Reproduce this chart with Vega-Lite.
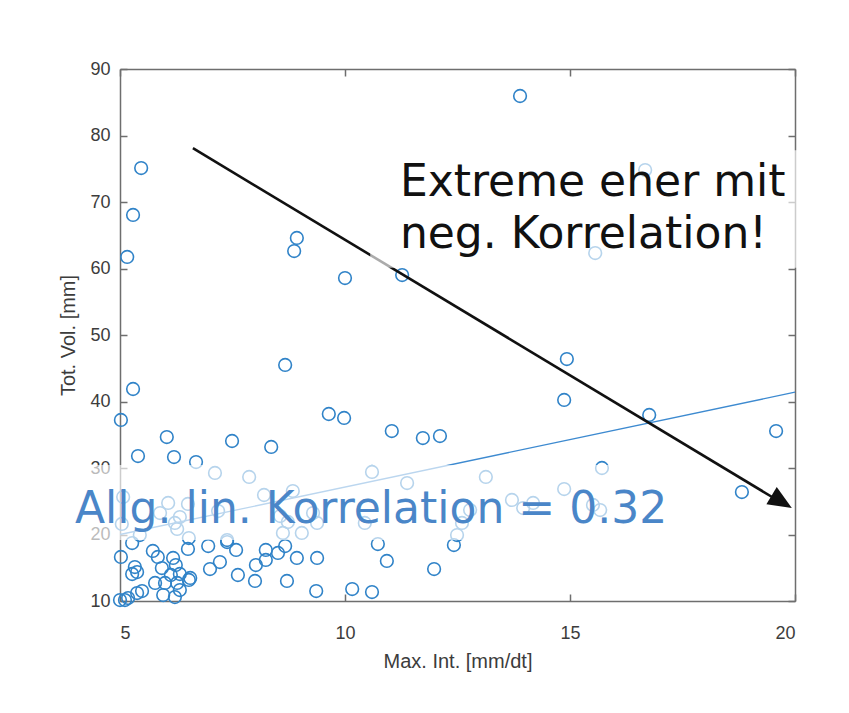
{
  "$schema": "https://vega.github.io/schema/vega-lite/v6.json",
  "width": 675,
  "height": 532,
  "autosize": {"type": "none"},
  "padding": {"left": 120, "top": 69, "right": 54, "bottom": 112},
  "background": "white",
  "config": {
    "view": {"stroke": null},
    "axis": {
      "domainColor": "#6e6e6e",
      "domainWidth": 1.5,
      "tickColor": "#6e6e6e",
      "tickWidth": 1.5,
      "tickSize": -7,
      "grid": false,
      "labelFont": "Liberation Sans",
      "labelFontSize": 18,
      "labelColor": "#3c3c3c",
      "titleFont": "Liberation Sans",
      "titleFontSize": 20,
      "titleFontWeight": "normal",
      "titleColor": "#3c3c3c"
    }
  },
  "datasets": {
    "obs": [
      {"maxint": 13.89, "totvol": 85.94}, {"maxint": 5.47, "totvol": 75.11}, {"maxint": 16.67, "totvol": 74.81},
      {"maxint": 5.29, "totvol": 68.05}, {"maxint": 8.93, "totvol": 64.59}, {"maxint": 8.87, "totvol": 62.63},
      {"maxint": 5.16, "totvol": 61.73}, {"maxint": 15.56, "totvol": 62.33}, {"maxint": 10.0, "totvol": 58.57},
      {"maxint": 11.27, "totvol": 59.02}, {"maxint": 8.67, "totvol": 45.49}, {"maxint": 14.93, "totvol": 46.39},
      {"maxint": 5.29, "totvol": 41.88}, {"maxint": 14.87, "totvol": 40.23}, {"maxint": 16.76, "totvol": 37.97},
      {"maxint": 5.02, "totvol": 37.22}, {"maxint": 9.64, "totvol": 38.12}, {"maxint": 9.98, "totvol": 37.52},
      {"maxint": 6.04, "totvol": 34.66}, {"maxint": 7.49, "totvol": 34.06}, {"maxint": 11.04, "totvol": 35.56},
      {"maxint": 11.73, "totvol": 34.51}, {"maxint": 12.11, "totvol": 34.81}, {"maxint": 8.36, "totvol": 33.16},
      {"maxint": 19.58, "totvol": 35.56}, {"maxint": 18.82, "totvol": 26.39}, {"maxint": 5.40, "totvol": 31.80},
      {"maxint": 6.20, "totvol": 31.65}, {"maxint": 6.69, "totvol": 30.90}, {"maxint": 15.71, "totvol": 30.0},
      {"maxint": 10.6, "totvol": 29.4}, {"maxint": 7.11, "totvol": 29.25}, {"maxint": 7.87, "totvol": 28.65},
      {"maxint": 13.13, "totvol": 28.65}, {"maxint": 11.38, "totvol": 27.74}, {"maxint": 14.87, "totvol": 26.84},
      {"maxint": 8.2, "totvol": 25.94}, {"maxint": 8.84, "totvol": 26.54}, {"maxint": 5.07, "totvol": 25.64},
      {"maxint": 6.07, "totvol": 24.74}, {"maxint": 6.51, "totvol": 24.59}, {"maxint": 5.89, "totvol": 23.23},
      {"maxint": 6.33, "totvol": 22.63}, {"maxint": 6.22, "totvol": 21.73}, {"maxint": 7.18, "totvol": 23.53},
      {"maxint": 8.56, "totvol": 22.78}, {"maxint": 8.73, "totvol": 21.88}, {"maxint": 9.29, "totvol": 23.23},
      {"maxint": 9.38, "totvol": 21.73}, {"maxint": 5.04, "totvol": 21.58}, {"maxint": 5.44, "totvol": 19.92},
      {"maxint": 6.27, "totvol": 20.83}, {"maxint": 6.53, "totvol": 19.47}, {"maxint": 7.38, "totvol": 19.17},
      {"maxint": 9.04, "totvol": 20.23}, {"maxint": 8.62, "totvol": 20.23}, {"maxint": 10.44, "totvol": 21.73},
      {"maxint": 12.78, "totvol": 23.68}, {"maxint": 12.6, "totvol": 21.73}, {"maxint": 12.49, "totvol": 19.92},
      {"maxint": 13.71, "totvol": 25.19}, {"maxint": 13.96, "totvol": 23.98}, {"maxint": 14.18, "totvol": 24.74},
      {"maxint": 15.51, "totvol": 24.44}, {"maxint": 15.67, "totvol": 23.68}, {"maxint": 5.27, "totvol": 18.72},
      {"maxint": 5.73, "totvol": 17.52}, {"maxint": 5.84, "totvol": 16.62}, {"maxint": 6.51, "totvol": 17.82},
      {"maxint": 6.96, "totvol": 18.27}, {"maxint": 7.58, "totvol": 17.67}, {"maxint": 8.24, "totvol": 17.67},
      {"maxint": 8.51, "totvol": 17.22}, {"maxint": 8.67, "totvol": 18.27}, {"maxint": 8.93, "totvol": 16.47},
      {"maxint": 9.38, "totvol": 16.47}, {"maxint": 5.02, "totvol": 16.62}, {"maxint": 5.33, "totvol": 15.11},
      {"maxint": 5.38, "totvol": 14.36}, {"maxint": 5.27, "totvol": 14.06}, {"maxint": 5.93, "totvol": 14.96},
      {"maxint": 6.18, "totvol": 16.47}, {"maxint": 6.24, "totvol": 15.41}, {"maxint": 6.13, "totvol": 13.91},
      {"maxint": 6.33, "totvol": 14.06}, {"maxint": 7.0, "totvol": 14.81}, {"maxint": 7.22, "totvol": 15.86},
      {"maxint": 7.62, "totvol": 13.91}, {"maxint": 8.02, "totvol": 15.41}, {"maxint": 8.24, "totvol": 16.17},
      {"maxint": 8.0, "totvol": 13.01}, {"maxint": 8.71, "totvol": 13.01}, {"maxint": 9.36, "totvol": 11.5},
      {"maxint": 10.16, "totvol": 11.8}, {"maxint": 5.78, "totvol": 12.71}, {"maxint": 6.0, "totvol": 12.71},
      {"maxint": 6.27, "totvol": 12.71}, {"maxint": 6.53, "totvol": 13.16}, {"maxint": 5.49, "totvol": 11.5},
      {"maxint": 5.38, "totvol": 11.2}, {"maxint": 5.96, "totvol": 10.9}, {"maxint": 6.22, "totvol": 10.6},
      {"maxint": 6.33, "totvol": 11.65}, {"maxint": 5.0, "totvol": 10.15}, {"maxint": 5.18, "totvol": 10.45},
      {"maxint": 5.11, "totvol": 10.15}, {"maxint": 10.73, "totvol": 18.57}, {"maxint": 10.93, "totvol": 16.02},
      {"maxint": 12.42, "totvol": 18.42}, {"maxint": 11.98, "totvol": 14.81}, {"maxint": 10.6, "totvol": 11.35},
      {"maxint": 7.38, "totvol": 18.87}, {"maxint": 6.56, "totvol": 13.46}
    ],
    "fit": [
      {"maxint": 5, "totvol": 20.0},
      {"maxint": 20, "totvol": 41.4}
    ],
    "anchor": [{}]
  },
  "layer": [
    {
      "data": {"name": "obs"},
      "mark": {"type": "point", "shape": "circle", "filled": false, "color": "#3083c8", "strokeWidth": 1.6, "size": 160, "opacity": 1},
      "encoding": {
        "x": {
          "field": "maxint", "type": "quantitative",
          "scale": {"domain": [5, 20], "nice": false, "zero": false},
          "axis": {"orient": "bottom", "values": [5, 10, 15, 20], "title": "Max. Int. [mm/dt]", "labelPadding": 30, "titleY": 66, "titleBaseline": "alphabetic"}
        },
        "y": {
          "field": "totvol", "type": "quantitative",
          "scale": {"domain": [10, 90], "nice": false, "zero": false},
          "axis": {"orient": "left", "values": [10, 20, 30, 40, 50, 60, 70, 80, 90], "title": "Tot. Vol. [mm]", "labelPadding": 17, "titleX": -52, "titleBaseline": "middle"}
        }
      }
    },
    {
      "data": {"name": "fit"},
      "mark": {"type": "line", "color": "#3d8ad0", "strokeWidth": 1.3},
      "encoding": {
        "x": {"field": "maxint", "type": "quantitative", "axis": {"orient": "top", "values": [5, 10, 15, 20], "labels": false, "title": null}},
        "y": {"field": "totvol", "type": "quantitative", "axis": {"orient": "right", "values": [10, 20, 30, 40, 50, 60, 70, 80, 90], "labels": false, "title": null}}
      }
    },
    {
      "data": {"name": "anchor"},
      "mark": {"type": "rule", "color": "#111111", "strokeWidth": 2.6},
      "encoding": {
        "x": {"datum": 6.62, "type": "quantitative", "axis": null},
        "y": {"datum": 78.1, "type": "quantitative", "axis": null},
        "x2": {"datum": 19.5},
        "y2": {"datum": 25.6}
      }
    },
    {
      "data": {"name": "anchor"},
      "mark": {"type": "point", "shape": "M0,0L-2,-0.85L-2,0.85Z", "filled": true, "color": "#111111", "size": 560, "angle": 31, "opacity": 1, "strokeWidth": 0},
      "encoding": {
        "x": {"datum": 19.93, "type": "quantitative", "axis": null},
        "y": {"datum": 24.0, "type": "quantitative", "axis": null}
      }
    },
    {
      "data": {"name": "anchor"},
      "mark": {"type": "rect", "color": "white", "opacity": 0.65},
      "encoding": {
        "x": {"datum": 3.67, "type": "quantitative", "axis": null},
        "x2": {"datum": 17.44},
        "y": {"datum": 19.17, "type": "quantitative", "axis": null},
        "y2": {"datum": 30.45}
      }
    },
    {
      "data": {"name": "anchor"},
      "mark": {"type": "rect", "color": "white", "opacity": 0.65},
      "encoding": {
        "x": {"datum": 10.56, "type": "quantitative", "axis": null},
        "x2": {"datum": 20.11},
        "y": {"datum": 60.1, "type": "quantitative", "axis": null},
        "y2": {"datum": 77.8}
      }
    },
    {
      "data": {"name": "anchor"},
      "mark": {"type": "text", "text": ["Extreme eher mit", "neg. Korrelation!"], "align": "left", "baseline": "alphabetic", "font": "DejaVu Sans", "fontSize": 44, "lineHeight": 52, "color": "#111111"},
      "encoding": {
        "x": {"datum": 11.22, "type": "quantitative", "axis": null},
        "y": {"datum": 70.9, "type": "quantitative", "axis": null}
      }
    },
    {
      "data": {"name": "anchor"},
      "mark": {"type": "text", "text": "Allg. lin. Korrelation = 0.32", "align": "left", "baseline": "alphabetic", "font": "DejaVu Sans", "fontSize": 44, "color": "#4a86c8"},
      "encoding": {
        "x": {"datum": 4.0, "type": "quantitative", "axis": null},
        "y": {"datum": 21.73, "type": "quantitative", "axis": null}
      }
    }
  ],
  "resolve": {"axis": {"x": "independent", "y": "independent"}}
}
